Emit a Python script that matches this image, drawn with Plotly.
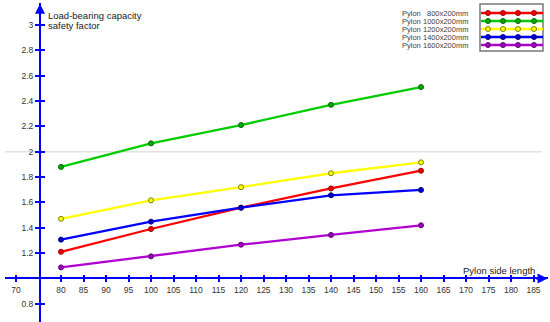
import plotly.graph_objects as go

# ---------------- data ----------------
side_length = [80, 100, 120, 140, 160]
series_names = ["800x200mm", "1000x200mm", "1200x200mm", "1400x200mm", "1600x200mm"]
pylon_800 = [1.21, 1.39, 1.558, 1.71, 1.85]
pylon_1000 = [1.88, 2.066, 2.21, 2.37, 2.51]
pylon_1200 = [1.47, 1.616, 1.72, 1.83, 1.916]
pylon_1400 = [1.306, 1.448, 1.558, 1.656, 1.698]
pylon_1600 = [1.087, 1.174, 1.266, 1.343, 1.419]
x_tick_vals = [70, 80, 85, 90, 95, 100, 105, 110, 115, 120, 125, 130, 135, 140, 145,
               150, 155, 160, 165, 170, 175, 180, 185]
y_tick_vals = [0.8, 1.2, 1.4, 1.6, 1.8, 2.0, 2.2, 2.4, 2.6, 2.8, 3.0]
y_tick_text = ["0.8", "1.2", "1.4", "1.6", "1.8", "2", "2.2", "2.4", "2.6", "2.8", "3"]
x_cross = 75.33   # x value where the y axis sits
y_cross = 1.0     # y value where the x axis sits
ref_line_y = 2.0
x_title = "Pylon side length"
y_title = ["Load-bearing capacity", "safety factor"]

series = [pylon_800, pylon_1000, pylon_1200, pylon_1400, pylon_1600]
line_colors = ["#ff0000", "#00cc00", "#ffff00", "#0000ff", "#b000d0"]
marker_fill = ["#ee0000", "#00aa00", "#ffff00", "#0000cc", "#9900bb"]
marker_edge = ["#990000", "#006600", "#808000", "#000080", "#660077"]

W, H = 550, 322
FONT = "Liberation Sans, Arial, sans-serif"
AX = "#0000ff"

# pixel geometry
x_dom = [5 / W, 548 / W]
x_range = [70 - (16 - 5) / 4.5, 70 + (548 - 16) / 4.5]
y_dom = [0.0, (H - 3) / H]
y_range = [3 - (H - 25) / 126.7, 3 + (25 - 3) / 126.7]

x_pos = y_dom[0] + (y_cross - y_range[0]) / (y_range[1] - y_range[0]) * (y_dom[1] - y_dom[0])
y_pos = x_dom[0] + (x_cross - x_range[0]) / (x_range[1] - x_range[0]) * (x_dom[1] - x_dom[0])

fig = go.Figure()

for name, vals, lc, mf, me in zip(series_names, series, line_colors, marker_fill, marker_edge):
    fig.add_trace(go.Scatter(
        x=side_length, y=vals, mode="lines+markers", name=name,
        line=dict(color=lc, width=2.3),
        marker=dict(size=5, color=mf, line=dict(color=me, width=1)),
        showlegend=False, hoverinfo="skip"))

# dummy trace for the "inside" tick overlay axes
fig.add_trace(go.Scatter(x=[None], y=[None], xaxis="x2", yaxis="y2",
                         showlegend=False, hoverinfo="skip"))

# custom legend (pixel-space axes x3/y3)
row_y = [13, 21, 29, 37, 45]
mark_x = [488, 503, 518, 534]
for ry, lc, mf, me, nm in zip(row_y, line_colors, marker_fill, marker_edge, series_names):
    fig.add_trace(go.Scatter(
        x=[481, 543], y=[ry, ry], mode="lines", xaxis="x3", yaxis="y3",
        line=dict(color=lc, width=2.3), showlegend=False, hoverinfo="skip"))
    fig.add_trace(go.Scatter(
        x=mark_x, y=[ry] * len(mark_x), mode="markers", xaxis="x3", yaxis="y3",
        marker=dict(size=5, color=mf, line=dict(color=me, width=1)),
        showlegend=False, hoverinfo="skip"))

annotations = []
for ry, nm in zip(row_y, series_names):
    annotations.append(dict(xref="x3", yref="y3", x=400, y=ry, text="Pylon",
                            showarrow=False, xanchor="left", yanchor="middle",
                            font=dict(size=7.5, color="#404040", family=FONT)))
    annotations.append(dict(xref="x3", yref="y3", x=470, y=ry, text=nm,
                            showarrow=False, xanchor="right", yanchor="middle",
                            font=dict(size=7.5, color="#404040", family=FONT)))

# axis titles
annotations.append(dict(xref="x3", yref="y3", x=46, y=15, text=y_title[0], showarrow=False,
                        xanchor="left", yanchor="middle",
                        font=dict(size=9.5, color="#222222", family=FONT)))
annotations.append(dict(xref="x3", yref="y3", x=46, y=25, text=y_title[1], showarrow=False,
                        xanchor="left", yanchor="middle",
                        font=dict(size=9.5, color="#222222", family=FONT)))
annotations.append(dict(xref="x3", yref="y3", x=537, y=270, text=x_title, showarrow=False,
                        xanchor="right", yanchor="middle",
                        font=dict(size=9.5, color="#222222", family=FONT)))

# arrows
annotations.append(dict(xref="x", yref="y", axref="x", ayref="y",
                        x=x_range[1] - 0.1, y=y_cross, ax=x_range[1] - 3, ay=y_cross,
                        text="", showarrow=True, arrowhead=2, arrowsize=1, arrowwidth=2,
                        arrowcolor=AX))
annotations.append(dict(xref="x", yref="y", axref="x", ayref="y",
                        x=x_cross, y=y_range[1] - 0.005, ax=x_cross, ay=y_range[1] - 0.1,
                        text="", showarrow=True, arrowhead=2, arrowsize=1, arrowwidth=2,
                        arrowcolor=AX))

shapes = [
    dict(type="line", xref="paper", yref="y", x0=5 / W, x1=542 / W, y0=ref_line_y, y1=ref_line_y,
         line=dict(color="#e2e2e2", width=1.5), layer="below"),
    dict(type="rect", xref="x3", yref="y3", x0=480, x1=543, y0=4, y1=51,
         line=dict(color="#777777", width=1.5), layer="below"),
]

tickfont = dict(size=8.5, color="#333333", family=FONT)

fig.update_layout(
    width=W, height=H, margin=dict(l=0, r=0, t=0, b=0, pad=0),
    paper_bgcolor="white", plot_bgcolor="rgba(0,0,0,0)",
    showlegend=False,
    xaxis=dict(domain=x_dom, range=x_range, anchor="free", position=x_pos,
               showgrid=False, zeroline=False, showline=True, linecolor=AX, linewidth=2,
               tickmode="array", tickvals=x_tick_vals, ticks="outside", ticklen=3,
               tickcolor=AX, tickwidth=1.5, tickfont=tickfont, fixedrange=True),
    yaxis=dict(domain=y_dom, range=y_range, anchor="free", position=y_pos,
               showgrid=False, zeroline=False, showline=True, linecolor=AX, linewidth=2,
               tickmode="array", tickvals=y_tick_vals, ticktext=y_tick_text,
               ticks="outside", ticklen=4, tickcolor=AX, tickwidth=1.5,
               tickfont=tickfont, fixedrange=True),
    xaxis2=dict(domain=x_dom, range=x_range, overlaying="x", anchor="free", position=x_pos,
                showgrid=False, zeroline=False, showline=False, showticklabels=False,
                tickmode="array", tickvals=x_tick_vals, ticks="inside", ticklen=3,
                tickcolor=AX, tickwidth=1.5, fixedrange=True),
    yaxis2=dict(domain=y_dom, range=y_range, overlaying="y", anchor="free", position=y_pos,
                showgrid=False, zeroline=False, showline=False, showticklabels=False,
                tickmode="array", tickvals=y_tick_vals, ticks="inside", ticklen=4,
                tickcolor=AX, tickwidth=1.5, fixedrange=True),
    xaxis3=dict(domain=[0, 1], range=[0, W], anchor="y3", visible=False, fixedrange=True),
    yaxis3=dict(domain=[0, 1], range=[H, 0], anchor="x3", visible=False, fixedrange=True),
    annotations=annotations,
    shapes=shapes,
)

fig.write_html("out.html", config=dict(displayModeBar=False),
               post_script="document.body.style.margin='0px';document.body.style.padding='0px';")
